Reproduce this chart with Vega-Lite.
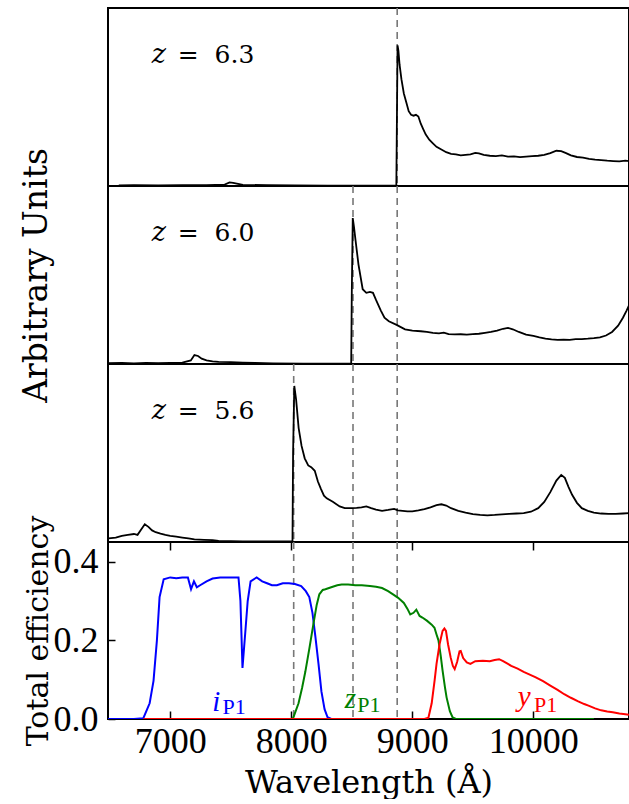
{
  "$schema": "https://vega.github.io/schema/vega-lite/v6.json",
  "background": "white",
  "padding": {"left": 19, "top": 6, "right": 0, "bottom": 0},
  "spacing": 0,
  "bounds": "flush",
  "config": {
    "concat": {"spacing": 0},
    "view": {"stroke": "black", "strokeWidth": 2},
    "axis": {"grid": false, "domain": false, "labelFont": "Liberation Serif", "labelFontSize": 36, "labelColor": "black", "titleFont": "DejaVu Serif", "titleFontSize": 32, "titleFontWeight": "normal", "titleColor": "black", "tickColor": "black", "tickWidth": 1.5}
  },
  "datasets": {
    "s63": [
      {"w":6575,"f":0.004},{"w":6700,"f":0.005},{"w":6900,"f":0.004},{"w":7100,"f":0.005},{"w":7300,"f":0.005},{"w":7450,"f":0.008},{"w":7490,"f":0.02},{"w":7520,"f":0.018},{"w":7560,"f":0.012},{"w":7600,"f":0.006},{"w":7800,"f":0.005},{"w":8030,"f":0.004},{"w":8300,"f":0.002},{"w":8600,"f":0.002},{"w":8868,"f":0.003},
      {"w":8878,"f":0.79},{"w":8885,"f":0.76},{"w":8895,"f":0.68},{"w":8910,"f":0.6},{"w":8930,"f":0.52},{"w":8950,"f":0.47},{"w":8970,"f":0.42},{"w":8990,"f":0.4},{"w":9010,"f":0.395},{"w":9030,"f":0.4},{"w":9050,"f":0.39},{"w":9070,"f":0.35},{"w":9090,"f":0.32},{"w":9110,"f":0.29},{"w":9140,"f":0.26},{"w":9170,"f":0.24},{"w":9200,"f":0.22},{"w":9240,"f":0.205},{"w":9280,"f":0.19},{"w":9320,"f":0.18},{"w":9360,"f":0.178},{"w":9400,"f":0.172},{"w":9440,"f":0.175},{"w":9480,"f":0.178},{"w":9520,"f":0.186},{"w":9550,"f":0.183},{"w":9590,"f":0.175},{"w":9640,"f":0.17},{"w":9690,"f":0.168},{"w":9740,"f":0.172},{"w":9790,"f":0.165},{"w":9840,"f":0.166},{"w":9890,"f":0.162},{"w":9940,"f":0.165},{"w":9990,"f":0.168},{"w":10040,"f":0.17},{"w":10090,"f":0.175},{"w":10140,"f":0.185},{"w":10190,"f":0.198},{"w":10230,"f":0.196},{"w":10270,"f":0.185},{"w":10310,"f":0.172},{"w":10360,"f":0.163},{"w":10410,"f":0.16},{"w":10460,"f":0.152},{"w":10510,"f":0.148},{"w":10560,"f":0.145},{"w":10610,"f":0.142},{"w":10660,"f":0.14},{"w":10710,"f":0.138},{"w":10760,"f":0.142},{"w":10790,"f":0.14}
    ],
    "s60": [
      {"w":6490,"f":0.005},{"w":6600,"f":0.006},{"w":6700,"f":0.004},{"w":6800,"f":0.006},{"w":6900,"f":0.005},{"w":7000,"f":0.006},{"w":7100,"f":0.008},{"w":7170,"f":0.02},{"w":7200,"f":0.05},{"w":7230,"f":0.045},{"w":7260,"f":0.03},{"w":7300,"f":0.02},{"w":7350,"f":0.015},{"w":7400,"f":0.012},{"w":7500,"f":0.01},{"w":7600,"f":0.008},{"w":7700,"f":0.006},{"w":7850,"f":0.004},{"w":8100,"f":0.002},{"w":8300,"f":0.002},{"w":8495,"f":0.003},
      {"w":8500,"f":0.4},{"w":8508,"f":0.82},{"w":8518,"f":0.77},{"w":8530,"f":0.7},{"w":8555,"f":0.56},{"w":8590,"f":0.42},{"w":8620,"f":0.4},{"w":8650,"f":0.405},{"w":8675,"f":0.4},{"w":8700,"f":0.36},{"w":8740,"f":0.3},{"w":8770,"f":0.26},{"w":8806,"f":0.24},{"w":8870,"f":0.22},{"w":8940,"f":0.195},{"w":9000,"f":0.187},{"w":9070,"f":0.184},{"w":9120,"f":0.18},{"w":9170,"f":0.175},{"w":9220,"f":0.172},{"w":9260,"f":0.176},{"w":9300,"f":0.168},{"w":9350,"f":0.166},{"w":9400,"f":0.167},{"w":9450,"f":0.165},{"w":9500,"f":0.168},{"w":9550,"f":0.17},{"w":9600,"f":0.175},{"w":9650,"f":0.18},{"w":9700,"f":0.188},{"w":9750,"f":0.198},{"w":9790,"f":0.203},{"w":9830,"f":0.195},{"w":9880,"f":0.18},{"w":9940,"f":0.165},{"w":10000,"f":0.158},{"w":10050,"f":0.15},{"w":10100,"f":0.143},{"w":10150,"f":0.138},{"w":10200,"f":0.135},{"w":10250,"f":0.137},{"w":10300,"f":0.136},{"w":10350,"f":0.14},{"w":10400,"f":0.14},{"w":10450,"f":0.142},{"w":10500,"f":0.145},{"w":10550,"f":0.15},{"w":10600,"f":0.16},{"w":10650,"f":0.18},{"w":10700,"f":0.215},{"w":10740,"f":0.26},{"w":10770,"f":0.3},{"w":10790,"f":0.33}
    ],
    "s56": [
      {"w":6490,"f":0.02},{"w":6550,"f":0.025},{"w":6600,"f":0.035},{"w":6650,"f":0.04},{"w":6700,"f":0.045},{"w":6730,"f":0.04},{"w":6760,"f":0.07},{"w":6790,"f":0.1},{"w":6820,"f":0.085},{"w":6850,"f":0.065},{"w":6880,"f":0.055},{"w":6920,"f":0.047},{"w":6960,"f":0.04},{"w":7000,"f":0.035},{"w":7050,"f":0.03},{"w":7100,"f":0.025},{"w":7150,"f":0.02},{"w":7200,"f":0.015},{"w":7280,"f":0.012},{"w":7350,"f":0.01},{"w":7400,"f":0.006},{"w":7600,"f":0.004},{"w":7800,"f":0.003},{"w":8010,"f":0.003},
      {"w":8015,"f":0.5},{"w":8025,"f":0.877},{"w":8040,"f":0.8},{"w":8061,"f":0.64},{"w":8085,"f":0.54},{"w":8111,"f":0.47},{"w":8140,"f":0.43},{"w":8165,"f":0.42},{"w":8194,"f":0.4},{"w":8220,"f":0.34},{"w":8244,"f":0.3},{"w":8270,"f":0.26},{"w":8293,"f":0.245},{"w":8343,"f":0.226},{"w":8400,"f":0.2},{"w":8442,"f":0.19},{"w":8500,"f":0.19},{"w":8540,"f":0.192},{"w":8580,"f":0.195},{"w":8620,"f":0.2},{"w":8660,"f":0.19},{"w":8700,"f":0.182},{"w":8750,"f":0.175},{"w":8800,"f":0.18},{"w":8850,"f":0.186},{"w":8880,"f":0.178},{"w":8920,"f":0.175},{"w":8960,"f":0.172},{"w":9000,"f":0.172},{"w":9050,"f":0.178},{"w":9100,"f":0.185},{"w":9150,"f":0.195},{"w":9200,"f":0.207},{"w":9240,"f":0.212},{"w":9280,"f":0.205},{"w":9320,"f":0.19},{"w":9380,"f":0.175},{"w":9440,"f":0.165},{"w":9500,"f":0.157},{"w":9560,"f":0.152},{"w":9620,"f":0.15},{"w":9680,"f":0.152},{"w":9740,"f":0.155},{"w":9800,"f":0.158},{"w":9860,"f":0.16},{"w":9920,"f":0.162},{"w":9980,"f":0.17},{"w":10040,"f":0.19},{"w":10090,"f":0.225},{"w":10140,"f":0.28},{"w":10190,"f":0.345},{"w":10230,"f":0.377},{"w":10260,"f":0.36},{"w":10290,"f":0.31},{"w":10320,"f":0.265},{"w":10360,"f":0.22},{"w":10400,"f":0.19},{"w":10450,"f":0.175},{"w":10500,"f":0.165},{"w":10560,"f":0.16},{"w":10620,"f":0.158},{"w":10680,"f":0.158},{"w":10740,"f":0.16},{"w":10790,"f":0.162}
    ],
    "filt": [
      {"band":"i","w":6486,"e":0},{"band":"i","w":6700,"e":0},{"band":"i","w":6778,"e":0.002},{"band":"i","w":6830,"e":0.04},{"band":"i","w":6862,"e":0.097},{"band":"i","w":6890,"e":0.2},{"band":"i","w":6912,"e":0.31},{"band":"i","w":6946,"e":0.355},{"band":"i","w":7000,"e":0.36},{"band":"i","w":7050,"e":0.358},{"band":"i","w":7100,"e":0.36},{"band":"i","w":7146,"e":0.36},{"band":"i","w":7172,"e":0.33},{"band":"i","w":7196,"e":0.35},{"band":"i","w":7220,"e":0.335},{"band":"i","w":7247,"e":0.34},{"band":"i","w":7300,"e":0.35},{"band":"i","w":7350,"e":0.357},{"band":"i","w":7413,"e":0.36},{"band":"i","w":7480,"e":0.36},{"band":"i","w":7564,"e":0.36},{"band":"i","w":7580,"e":0.3},{"band":"i","w":7597,"e":0.13},{"band":"i","w":7620,"e":0.22},{"band":"i","w":7640,"e":0.3},{"band":"i","w":7664,"e":0.35},{"band":"i","w":7714,"e":0.36},{"band":"i","w":7760,"e":0.35},{"band":"i","w":7800,"e":0.345},{"band":"i","w":7840,"e":0.34},{"band":"i","w":7881,"e":0.34},{"band":"i","w":7930,"e":0.345},{"band":"i","w":7981,"e":0.345},{"band":"i","w":8030,"e":0.343},{"band":"i","w":8082,"e":0.338},{"band":"i","w":8120,"e":0.325},{"band":"i","w":8149,"e":0.31},{"band":"i","w":8175,"e":0.27},{"band":"i","w":8199,"e":0.21},{"band":"i","w":8225,"e":0.14},{"band":"i","w":8249,"e":0.07},{"band":"i","w":8275,"e":0.025},{"band":"i","w":8299,"e":0.005},{"band":"i","w":8330,"e":0},
      {"band":"z","w":8000,"e":0},{"band":"z","w":8015,"e":0.002},{"band":"z","w":8060,"e":0.04},{"band":"z","w":8090,"e":0.08},{"band":"z","w":8116,"e":0.12},{"band":"z","w":8150,"e":0.18},{"band":"z","w":8182,"e":0.24},{"band":"z","w":8210,"e":0.29},{"band":"z","w":8232,"e":0.317},{"band":"z","w":8260,"e":0.328},{"band":"z","w":8282,"e":0.33},{"band":"z","w":8330,"e":0.335},{"band":"z","w":8380,"e":0.34},{"band":"z","w":8416,"e":0.342},{"band":"z","w":8470,"e":0.342},{"band":"z","w":8530,"e":0.34},{"band":"z","w":8583,"e":0.34},{"band":"z","w":8650,"e":0.338},{"band":"z","w":8700,"e":0.336},{"band":"z","w":8750,"e":0.333},{"band":"z","w":8800,"e":0.325},{"band":"z","w":8850,"e":0.315},{"band":"z","w":8883,"e":0.308},{"band":"z","w":8930,"e":0.295},{"band":"z","w":8960,"e":0.28},{"band":"z","w":8983,"e":0.266},{"band":"z","w":9010,"e":0.27},{"band":"z","w":9033,"e":0.278},{"band":"z","w":9060,"e":0.262},{"band":"z","w":9083,"e":0.258},{"band":"z","w":9120,"e":0.25},{"band":"z","w":9160,"e":0.24},{"band":"z","w":9183,"e":0.232},{"band":"z","w":9200,"e":0.215},{"band":"z","w":9216,"e":0.2},{"band":"z","w":9235,"e":0.16},{"band":"z","w":9250,"e":0.123},{"band":"z","w":9270,"e":0.08},{"band":"z","w":9283,"e":0.055},{"band":"z","w":9310,"e":0.02},{"band":"z","w":9333,"e":0.004},{"band":"z","w":9360,"e":0},{"band":"z","w":10500,"e":0},
      {"band":"y","w":6778,"e":0},{"band":"y","w":9100,"e":0},{"band":"y","w":9133,"e":0.003},{"band":"y","w":9160,"e":0.04},{"band":"y","w":9185,"e":0.1},{"band":"y","w":9200,"e":0.14},{"band":"y","w":9225,"e":0.19},{"band":"y","w":9250,"e":0.224},{"band":"y","w":9265,"e":0.23},{"band":"y","w":9278,"e":0.224},{"band":"y","w":9295,"e":0.19},{"band":"y","w":9317,"e":0.156},{"band":"y","w":9335,"e":0.135},{"band":"y","w":9350,"e":0.127},{"band":"y","w":9370,"e":0.145},{"band":"y","w":9390,"e":0.172},{"band":"y","w":9400,"e":0.173},{"band":"y","w":9420,"e":0.155},{"band":"y","w":9450,"e":0.144},{"band":"y","w":9480,"e":0.14},{"band":"y","w":9520,"e":0.147},{"band":"y","w":9583,"e":0.148},{"band":"y","w":9640,"e":0.147},{"band":"y","w":9680,"e":0.15},{"band":"y","w":9717,"e":0.152},{"band":"y","w":9750,"e":0.147},{"band":"y","w":9790,"e":0.14},{"band":"y","w":9817,"e":0.135},{"band":"y","w":9870,"e":0.128},{"band":"y","w":9920,"e":0.12},{"band":"y","w":9970,"e":0.113},{"band":"y","w":10020,"e":0.106},{"band":"y","w":10080,"e":0.096},{"band":"y","w":10140,"e":0.085},{"band":"y","w":10200,"e":0.074},{"band":"y","w":10255,"e":0.063},{"band":"y","w":10310,"e":0.054},{"band":"y","w":10370,"e":0.045},{"band":"y","w":10420,"e":0.038},{"band":"y","w":10455,"e":0.034},{"band":"y","w":10510,"e":0.027},{"band":"y","w":10560,"e":0.022},{"band":"y","w":10610,"e":0.019},{"band":"y","w":10656,"e":0.017},{"band":"y","w":10710,"e":0.014},{"band":"y","w":10760,"e":0.012},{"band":"y","w":10790,"e":0.011}
    ],
    "bandLetters": [
      {"band":"i","w":7348,"e":0.02},{"band":"z","w":8442,"e":0.029},{"band":"y","w":9870,"e":0.033}
    ],
    "bandSubs": [
      {"band":"i","w":7431,"e":0.012,"t":"P1"},{"band":"z","w":8545,"e":0.018,"t":"P1"},{"band":"y","w":10005,"e":0.018,"t":"P1"}
    ]
  },
  "vconcat": [
    {
      "width": 521, "height": 178,
      "layer": [
        {"data": {"values": [{"w": 8875}]}, "mark": {"type": "rule", "color": "#777777", "strokeDash": [7, 5], "strokeWidth": 1.6},
         "encoding": {"x": {"field": "w", "type": "quantitative", "scale": {"domain": [6486, 10790], "nice": false, "zero": false}, "axis": null}}},
        {"data": {"name": "s63"}, "mark": {"type": "line", "color": "black", "strokeWidth": 1.8, "clip": true},
         "encoding": {"x": {"field": "w", "type": "quantitative", "scale": {"domain": [6486, 10790], "nice": false, "zero": false}, "axis": null},
                      "y": {"field": "f", "type": "quantitative", "scale": {"domain": [0, 1], "nice": false}, "axis": null}}},
        {"data": {"values": [{"w": 6847, "f": 0.69, "t": "z"}]}, "mark": {"type": "text", "font": "DejaVu Serif", "fontStyle": "italic", "fontSize": 27, "align": "left", "baseline": "alphabetic", "color": "black"},
         "encoding": {"x": {"field": "w", "type": "quantitative", "axis": null}, "y": {"field": "f", "type": "quantitative", "axis": null}, "text": {"field": "t"}}},
        {"data": {"values": [{"w": 7062, "f": 0.69, "t": "= \u00a06.3"}]}, "mark": {"type": "text", "font": "DejaVu Serif", "fontSize": 25, "align": "left", "baseline": "alphabetic", "color": "black"},
         "encoding": {"x": {"field": "w", "type": "quantitative", "axis": null}, "y": {"field": "f", "type": "quantitative", "axis": null}, "text": {"field": "t"}}}
      ]
    },
    {
      "width": 521, "height": 178,
      "layer": [
        {"data": {"values": [{"w": 8510}, {"w": 8875}]}, "mark": {"type": "rule", "color": "#777777", "strokeDash": [7, 5], "strokeWidth": 1.6},
         "encoding": {"x": {"field": "w", "type": "quantitative", "scale": {"domain": [6486, 10790], "nice": false, "zero": false}, "axis": null}}},
        {"data": {"name": "s60"}, "mark": {"type": "line", "color": "black", "strokeWidth": 1.8, "clip": true},
         "encoding": {"x": {"field": "w", "type": "quantitative", "scale": {"domain": [6486, 10790], "nice": false, "zero": false}, "axis": null},
                      "y": {"field": "f", "type": "quantitative", "scale": {"domain": [0, 1], "nice": false}, "axis": {"title": "Arbitrary Units", "titleFontSize": 33, "labels": false, "ticks": false, "titlePadding": 55}}}},
        {"data": {"values": [{"w": 6847, "f": 0.69, "t": "z"}]}, "mark": {"type": "text", "font": "DejaVu Serif", "fontStyle": "italic", "fontSize": 27, "align": "left", "baseline": "alphabetic", "color": "black"},
         "encoding": {"x": {"field": "w", "type": "quantitative", "axis": null}, "y": {"field": "f", "type": "quantitative"}, "text": {"field": "t"}}},
        {"data": {"values": [{"w": 7062, "f": 0.69, "t": "= \u00a06.0"}]}, "mark": {"type": "text", "font": "DejaVu Serif", "fontSize": 25, "align": "left", "baseline": "alphabetic", "color": "black"},
         "encoding": {"x": {"field": "w", "type": "quantitative", "axis": null}, "y": {"field": "f", "type": "quantitative"}, "text": {"field": "t"}}}
      ]
    },
    {
      "width": 521, "height": 178,
      "layer": [
        {"data": {"values": [{"w": 8020}, {"w": 8510}, {"w": 8875}]}, "mark": {"type": "rule", "color": "#777777", "strokeDash": [7, 5], "strokeWidth": 1.6},
         "encoding": {"x": {"field": "w", "type": "quantitative", "scale": {"domain": [6486, 10790], "nice": false, "zero": false}, "axis": null}}},
        {"data": {"name": "s56"}, "mark": {"type": "line", "color": "black", "strokeWidth": 1.8, "clip": true},
         "encoding": {"x": {"field": "w", "type": "quantitative", "scale": {"domain": [6486, 10790], "nice": false, "zero": false}, "axis": null},
                      "y": {"field": "f", "type": "quantitative", "scale": {"domain": [0, 1], "nice": false}, "axis": null}}},
        {"data": {"values": [{"w": 6847, "f": 0.69, "t": "z"}]}, "mark": {"type": "text", "font": "DejaVu Serif", "fontStyle": "italic", "fontSize": 27, "align": "left", "baseline": "alphabetic", "color": "black"},
         "encoding": {"x": {"field": "w", "type": "quantitative", "axis": null}, "y": {"field": "f", "type": "quantitative", "axis": null}, "text": {"field": "t"}}},
        {"data": {"values": [{"w": 7062, "f": 0.69, "t": "= \u00a05.6"}]}, "mark": {"type": "text", "font": "DejaVu Serif", "fontSize": 25, "align": "left", "baseline": "alphabetic", "color": "black"},
         "encoding": {"x": {"field": "w", "type": "quantitative", "axis": null}, "y": {"field": "f", "type": "quantitative", "axis": null}, "text": {"field": "t"}}}
      ]
    },
    {
      "width": 521, "height": 177,
      "resolve": {"axis": {"x": "independent"}},
      "layer": [
        {"data": {"values": [{"w": 8020}, {"w": 8510}, {"w": 8875}]}, "mark": {"type": "rule", "color": "#777777", "strokeDash": [7, 5], "strokeWidth": 1.6},
         "encoding": {"x": {"field": "w", "type": "quantitative", "scale": {"domain": [6486, 10790], "nice": false, "zero": false},
                            "axis": {"orient": "top", "title": null, "labels": false, "values": [7000, 8000, 9000, 10000], "tickSize": -8}}}},
        {"data": {"name": "filt"}, "mark": {"type": "line", "strokeWidth": 2, "clip": true},
         "encoding": {"x": {"field": "w", "type": "quantitative", "scale": {"domain": [6486, 10790], "nice": false, "zero": false},
                            "axis": {"orient": "bottom", "title": "Wavelength (Å)", "format": "d", "values": [7000, 8000, 9000, 10000], "tickSize": -8, "labelPadding": 13, "titlePadding": 8, "labelFlush": false}},
                      "y": {"field": "e", "type": "quantitative", "scale": {"domain": [0, 0.45], "nice": false},
                            "axis": {"title": "Total efficiency", "titleFontSize": 30, "values": [0, 0.2, 0.4], "format": ".1f", "tickSize": -7, "labelPadding": 17, "titlePadding": 0, "labelFlush": false}},
                      "color": {"field": "band", "type": "nominal", "scale": {"domain": ["i", "z", "y"], "range": ["#0000ff", "#008000", "#ff0000"]}, "legend": null}}},
        {"data": {"name": "bandLetters"}, "mark": {"type": "text", "font": "Liberation Serif", "fontStyle": "italic", "fontSize": 29, "align": "left", "baseline": "alphabetic"},
         "encoding": {"x": {"field": "w", "type": "quantitative", "axis": null}, "y": {"field": "e", "type": "quantitative"}, "text": {"field": "band"},
                      "color": {"field": "band", "type": "nominal", "scale": {"domain": ["i", "z", "y"], "range": ["#0000ff", "#008000", "#ff0000"]}, "legend": null}}},
        {"data": {"name": "bandSubs"}, "mark": {"type": "text", "font": "Liberation Serif", "fontSize": 22, "align": "left", "baseline": "alphabetic"},
         "encoding": {"x": {"field": "w", "type": "quantitative", "axis": null}, "y": {"field": "e", "type": "quantitative"}, "text": {"field": "t"},
                      "color": {"field": "band", "type": "nominal", "scale": {"domain": ["i", "z", "y"], "range": ["#0000ff", "#008000", "#ff0000"]}, "legend": null}}}
      ]
    }
  ]
}
